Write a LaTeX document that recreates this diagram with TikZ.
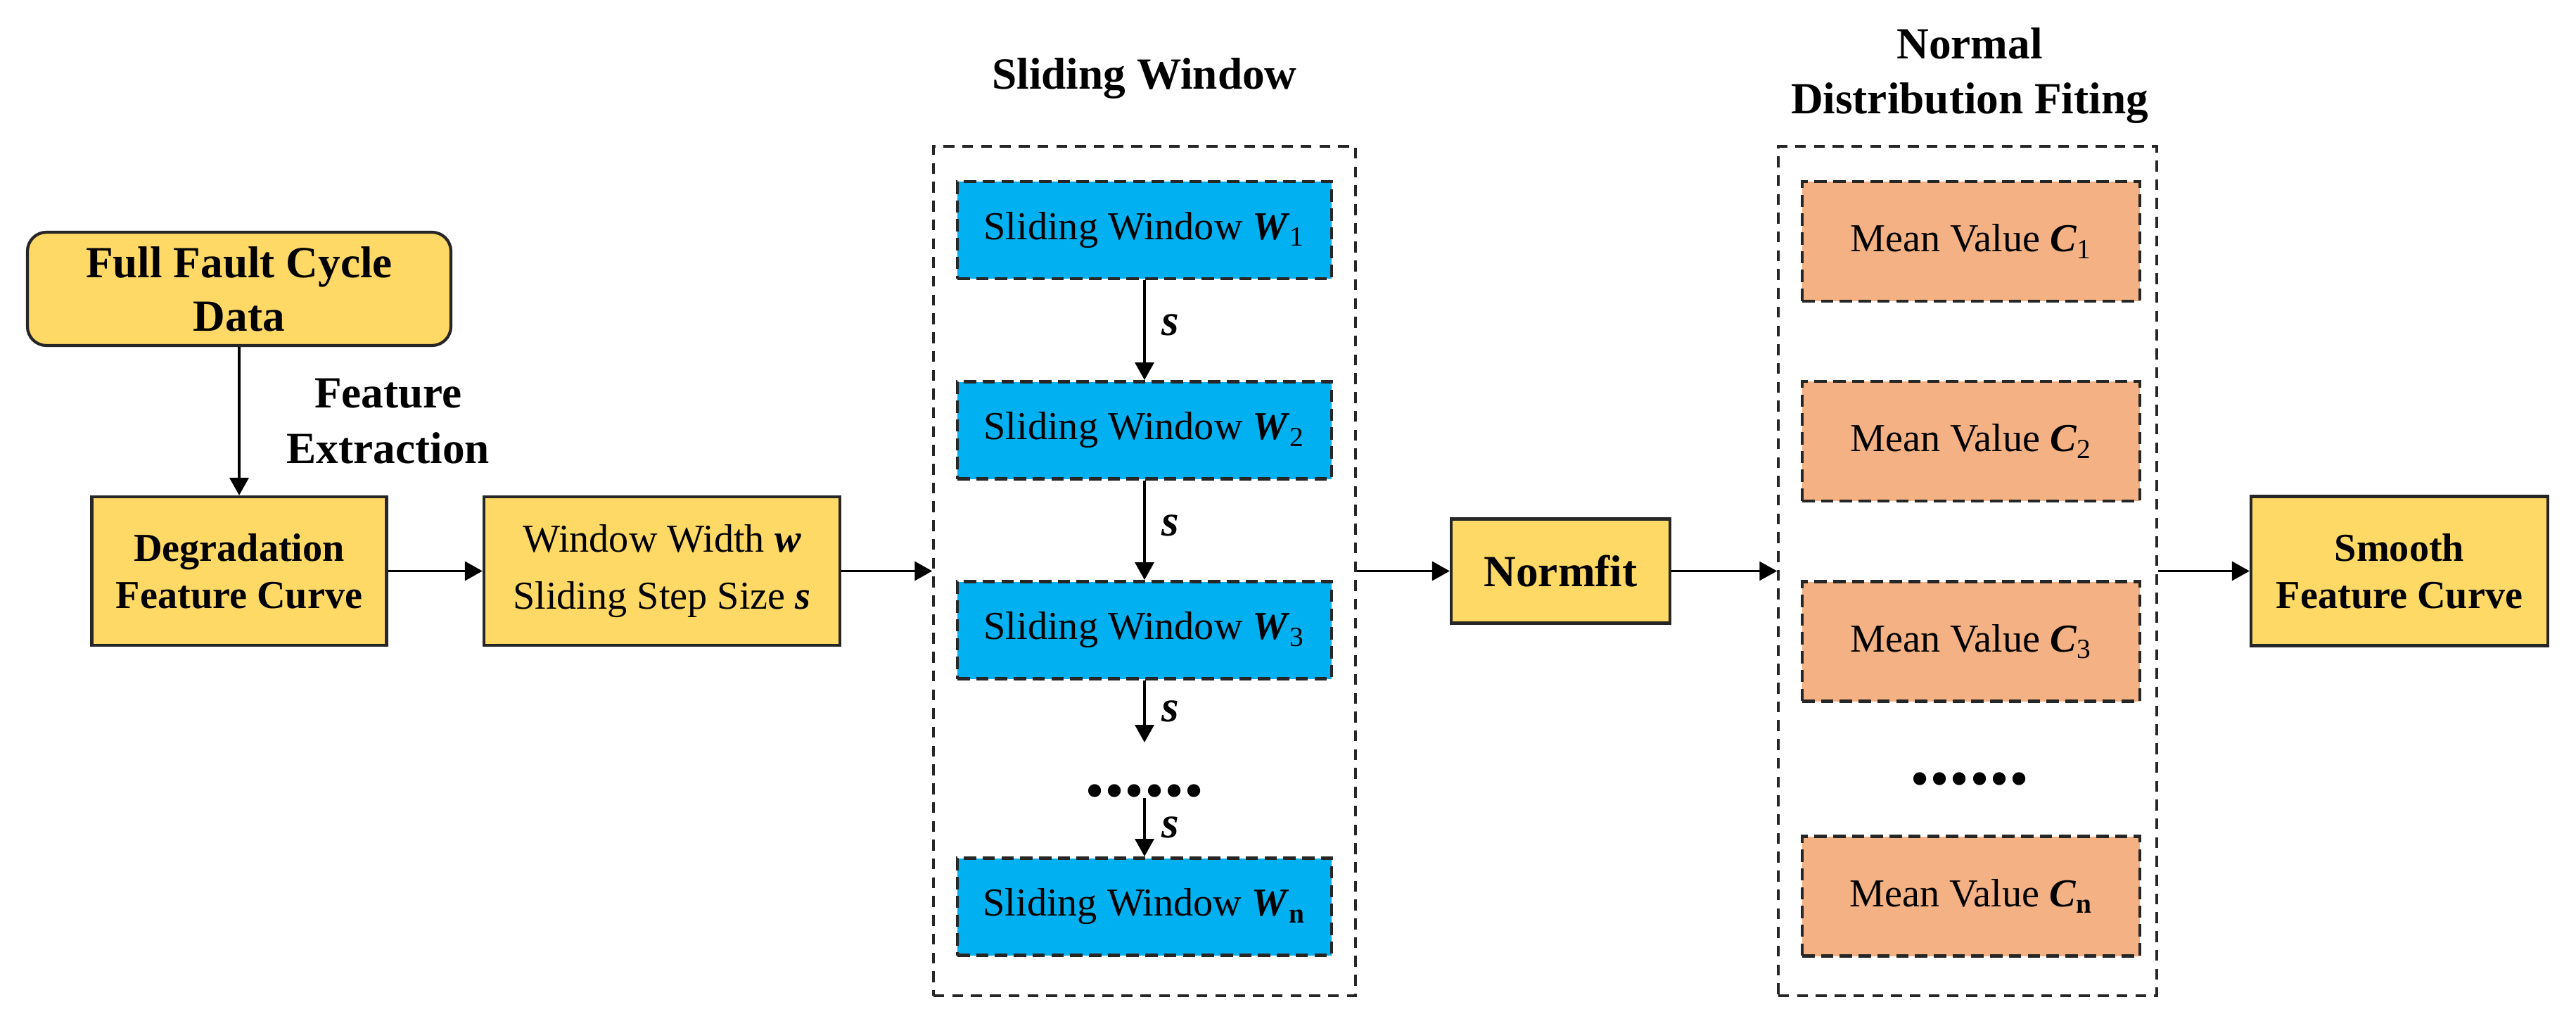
\documentclass[tikz,border=0pt]{standalone}
\usepackage{fontspec}
\setmainfont{Liberation Serif}
\usetikzlibrary{positioning,arrows.meta,calc}
\definecolor{stageyellow}{HTML}{FFD966}
\definecolor{windowblue}{HTML}{00B0F0}
\definecolor{meanorange}{HTML}{F4B183}
\definecolor{edgegray}{HTML}{262626}
\newcommand{\boldit}[1]{\textbf{\textit{#1}}}

\begin{document}
\begin{tikzpicture}[
  >={Triangle[length=2.5mm,width=2.7mm]},
  stage/.style={draw=edgegray, fill=stageyellow, line width=1.2pt, align=center, inner sep=0pt, font=\fontsize{16}{19}\selectfont\bfseries},
  winbox/.style={draw=edgegray, fill=windowblue, line width=1.4pt, dash pattern=on 5pt off 2.6pt, inner sep=0pt, minimum width=5.32cm, minimum height=1.38cm, font=\fontsize{16}{19}\selectfont},
  meanbox/.style={draw=edgegray, fill=meanorange, line width=1.4pt, dash pattern=on 5pt off 2.6pt, inner sep=0pt, minimum width=4.8cm, minimum height=1.7cm, font=\fontsize{16}{19}\selectfont},
  groupframe/.style={draw=edgegray, line width=1pt, dash pattern=on 4.4pt off 3.2pt, inner sep=0pt, minimum height=12.07cm},
  grouptitle/.style={align=center, inner sep=0pt, font=\fontsize{18}{22.3}\selectfont\bfseries},
  flow/.style={->, line width=1pt, draw=black},
  steplabel/.style={right, inner sep=0pt, xshift=0.23cm, font=\fontsize{18}{20}\selectfont\bfseries\itshape},
  ellipsisdots/.style={inner sep=0pt, font=\fontsize{32}{32}\selectfont\bfseries}
]
  \useasboundingbox (0,0) rectangle (36.62,-14.58);

  % input and preprocessing
  \node[stage, rounded corners=0.27cm, minimum width=6.02cm, minimum height=1.61cm, font=\fontsize{18}{21.6}\selectfont\bfseries] (fulldata) at (3.40,-4.105) {Full Fault Cycle\\Data};
  \node[stage, minimum width=4.19cm, minimum height=2.11cm] (degcurve) at (3.40,-8.115) {Degradation\\Feature Curve};
  \node[stage, minimum width=5.06cm, minimum height=2.11cm, font=\fontsize{16}{22.8}\selectfont] (params) at (9.41,-8.115) {Window Width \boldit{w}\\Sliding Step Size \boldit{s}};

  % sliding windows
  \node[groupframe, minimum width=6.0cm] (slideframe) at (16.27,-8.115) {};
  \node[grouptitle] (slidetitle) at (16.27,-1.12) {Sliding Window};
  \node[winbox] (w1) at (16.27,-3.27) {Sliding Window \boldit{W}\textsubscript{1}};
  \node[winbox] (w2) at (16.27,-6.115) {Sliding Window \boldit{W}\textsubscript{2}};
  \node[winbox] (w3) at (16.27,-8.955) {Sliding Window \boldit{W}\textsubscript{3}};
  \node[ellipsisdots] (wdots) at (16.27,-11.24) {......};
  \node[winbox] (wn) at (16.27,-12.885) {Sliding Window \boldit{W}\textsubscript{\textbf{n}}};
  \coordinate (w3end) at (16.27,-10.55);

  \node[stage, minimum width=3.11cm, minimum height=1.48cm, font=\fontsize{18}{21}\selectfont\bfseries] (normfit) at (22.185,-8.115) {Normfit};

  % normal distribution fitting
  \node[groupframe, minimum width=5.38cm] (meanframe) at (27.97,-8.115) {};
  \node[grouptitle] (meantitle) at (28.0,-1.075) {Normal\\Distribution Fiting};
  \node[meanbox] (c1) at (28.02,-3.43) {Mean Value \boldit{C}\textsubscript{1}};
  \node[meanbox] (c2) at (28.02,-6.27) {Mean Value \boldit{C}\textsubscript{2}};
  \node[meanbox] (c3) at (28.02,-9.115) {Mean Value \boldit{C}\textsubscript{3}};
  \node[ellipsisdots] (cdots) at (28.0,-11.07) {......};
  \node[meanbox] (cn) at (28.02,-12.735) {Mean Value \boldit{C}\textsubscript{\textbf{n}}};

  \node[stage, minimum width=4.22cm, minimum height=2.12cm] (smooth) at (34.11,-8.115) {Smooth\\Feature Curve};

  % connectors
  \draw[flow] (fulldata) -- node[right, xshift=0.66cm, grouptitle] {Feature\\Extraction} (degcurve);
  \draw[flow] (degcurve) -- (params);
  \draw[flow] (params) -- (slideframe);
  \draw[flow] (w1) -- node[steplabel, pos=0.45] {s} (w2);
  \draw[flow] (w2) -- node[steplabel, pos=0.45] {s} (w3);
  \draw[flow] (w3) -- node[steplabel] {s} (w3end);
  \draw[flow] (wdots.south) -- node[steplabel, pos=0.5] {s} (wn);
  \draw[flow] (slideframe) -- (normfit);
  \draw[flow, line width=0.7pt] (normfit) -- (meanframe);
  \draw[flow] (meanframe) -- (smooth);
\end{tikzpicture}
\end{document}
